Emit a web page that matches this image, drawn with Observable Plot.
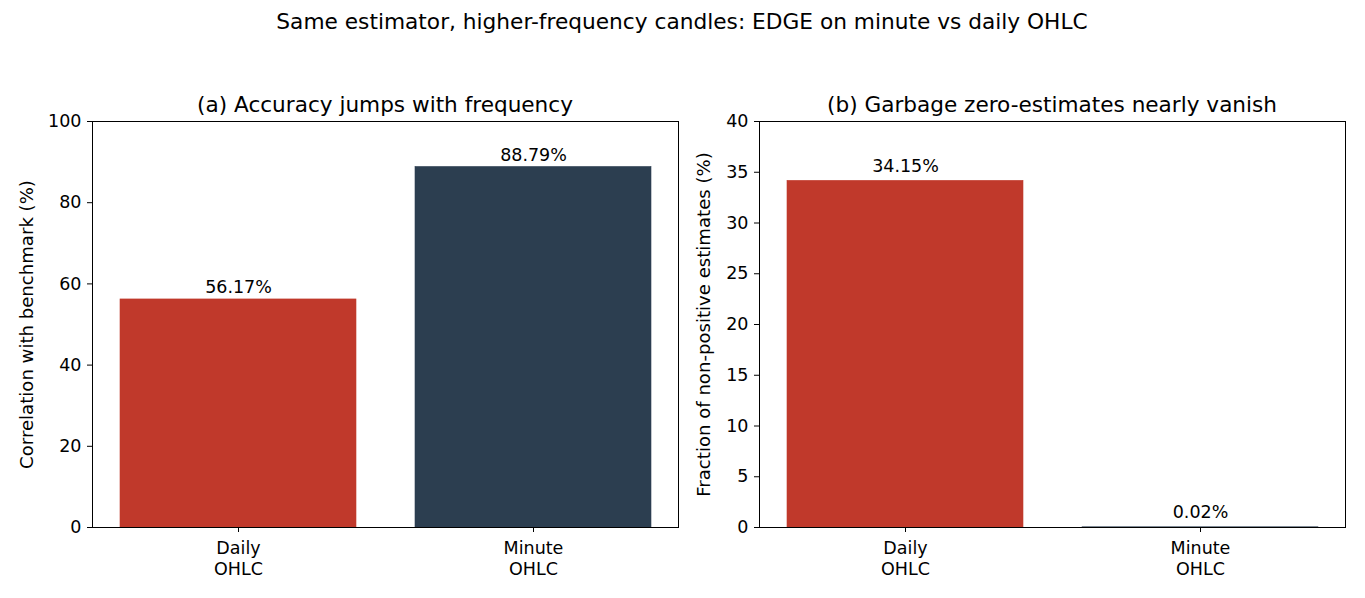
<!DOCTYPE html>
<html>
<head>
<meta charset="utf-8">
<script src="https://cdn.jsdelivr.net/npm/d3@7"></script>
<script src="https://cdn.jsdelivr.net/npm/@observablehq/plot@0.6"></script>
<style>
  body { margin: 0; background: #fff; font-family: "DejaVu Sans", sans-serif; }
  #wrap { position: relative; width: 1365px; height: 598px; overflow: hidden; background: #fff; }
  .t { position: absolute; transform: translate(-50%, -50%); white-space: nowrap; color: #000; z-index: 2; }
  .sup { font-size: 21.7px; }
  .sub { font-size: 21.6px; }
  .panel { position: absolute; top: 100px; z-index: 1; }
</style>
</head>
<body>
<div id="wrap">
  <div class="panel" id="left" style="left:0px;"></div>
  <div class="panel" id="right" style="left:683px;"></div>
  <div class="t sup" style="left:682px; top:21px;">Same estimator, higher-frequency candles: EDGE on minute vs daily OHLC</div>
  <div class="t sub" style="left:385px; top:104px;">(a) Accuracy jumps with frequency</div>
  <div class="t sub" style="left:1052px; top:104px;">(b) Garbage zero-estimates nearly vanish</div>
</div>
<script>
const categories = ["Daily\nOHLC", "Minute\nOHLC"];
const correlationPct = [56.17, 88.79];
const nonPositivePct = [34.15, 0.02];
const barColors = ["#c0392b", "#2c3e50"];
const leftTicks = [0, 20, 40, 60, 80, 100];
const rightTicks = [0, 5, 10, 15, 20, 25, 30, 35, 40];

function panel({values, yMax, ticks, yLabel, width, marginLeft, marginRight, labelOffset, labelDy}) {
  const data = categories.map((c, i) => ({cat: c, v: values[i], color: barColors[i]}));
  return Plot.plot({
    width, height: 498,
    marginTop: 21, marginBottom: 71, marginLeft, marginRight,
    style: {fontFamily: "DejaVu Sans, sans-serif", fontSize: "17.5px", color: "#000", background: "transparent", overflow: "visible"},
    x: {type: "band", domain: categories, paddingInner: 0.2, paddingOuter: 0.09},
    y: {domain: [0, yMax]},
    marks: [
      Plot.barY(data, {x: "cat", y: "v", fill: "color", stroke: "color", strokeWidth: 0.6}),
      Plot.text(data, {x: "cat", y: "v", text: d => d.v.toFixed(2) + "%", dy: labelDy, lineAnchor: "bottom", fontSize: 17.5, fill: "#000"}),
      Plot.frame({stroke: "#000", strokeWidth: 1}),
      Plot.axisX({tickSize: 5, tickPadding: 7, fontSize: 17.5, lineHeight: 1.17, label: null, stroke: "#000"}),
      Plot.axisY({ticks, tickSize: 5, tickPadding: 6, fontSize: 17.5, label: null, stroke: "#000"}),
      Plot.axisY({ticks: [], tickSize: 0, fontSize: 18.1, label: yLabel, labelAnchor: "center", labelArrow: "none", labelOffset})
    ]
  });
}

document.getElementById("left").appendChild(panel({
  values: correlationPct, yMax: 100, ticks: leftTicks, yLabel: "Correlation with benchmark (%)",
  width: 683, marginLeft: 92, marginRight: 5, labelOffset: 72, labelDy: -6
}));
document.getElementById("right").appendChild(panel({
  values: nonPositivePct, yMax: 40, ticks: rightTicks, yLabel: "Fraction of non-positive estimates (%)",
  width: 682, marginLeft: 76, marginRight: 20, labelOffset: 62, labelDy: -9
}));
</script>
</body>
</html>
